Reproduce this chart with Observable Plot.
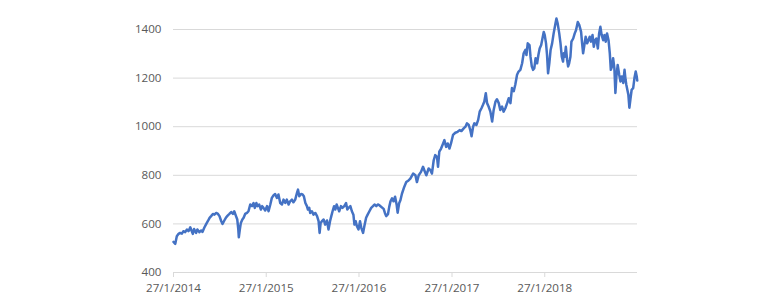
<!DOCTYPE html>
<html><head><meta charset="utf-8">
<script src="https://cdn.jsdelivr.net/npm/d3@7"></script>
<script src="https://cdn.jsdelivr.net/npm/@observablehq/plot@0.6"></script>
<style>
html,body{margin:0;padding:0;background:#fff;}
#chart svg{display:block;}
</style></head><body><div id="chart"></div>
<script>
const dates = [
"2014-01-27","2014-02-03","2014-02-09","2014-02-16","2014-02-22","2014-03-01","2014-03-07","2014-03-14","2014-03-21","2014-03-27",
"2014-04-03","2014-04-09","2014-04-13","2014-04-18","2014-04-26","2014-05-01","2014-05-09","2014-05-16","2014-05-21","2014-05-28",
"2014-06-05","2014-06-11","2014-06-18","2014-06-24","2014-07-01","2014-07-07","2014-07-14","2014-07-21","2014-07-27","2014-08-03",
"2014-08-08","2014-08-15","2014-08-21","2014-08-28","2014-09-04","2014-09-11","2014-09-18","2014-09-23","2014-09-30","2014-10-05",
"2014-10-09","2014-10-11","2014-10-15","2014-10-19","2014-10-25","2014-10-30","2014-11-05","2014-11-12","2014-11-18","2014-11-25",
"2014-12-02","2014-12-08","2014-12-13","2014-12-19","2014-12-24","2014-12-30","2015-01-06","2015-01-11","2015-01-16","2015-01-23",
"2015-01-30","2015-02-05","2015-02-12","2015-02-18","2015-02-25","2015-03-03","2015-03-10","2015-03-16","2015-03-23","2015-03-30",
"2015-04-05","2015-04-12","2015-04-18","2015-04-25","2015-05-01","2015-05-08","2015-05-14","2015-05-21",
"2015-05-28","2015-06-01","2015-06-06","2015-06-13","2015-06-19","2015-06-24","2015-06-30","2015-07-06","2015-07-10","2015-07-15",
"2015-07-19","2015-07-26","2015-08-01","2015-08-08","2015-08-15","2015-08-21","2015-08-25","2015-08-29","2015-09-03","2015-09-10",
"2015-09-16","2015-09-23","2015-09-29","2015-10-05","2015-10-10","2015-10-15","2015-10-21","2015-10-26","2015-10-31","2015-11-05",
"2015-11-10","2015-11-17","2015-11-23","2015-11-30","2015-12-07","2015-12-12","2015-12-17","2015-12-24","2015-12-30","2016-01-05",
"2016-01-09","2016-01-14","2016-01-19","2016-01-25","2016-01-31","2016-02-05","2016-02-12","2016-02-17","2016-02-24","2016-03-01",
"2016-03-08","2016-03-15","2016-03-22","2016-03-28","2016-04-04","2016-04-10","2016-04-17",
"2016-05-03","2016-05-08","2016-05-13","2016-05-20","2016-05-25","2016-05-30","2016-06-05","2016-06-11","2016-06-17","2016-06-23",
"2016-06-27","2016-07-03",
"2016-07-08","2016-07-14","2016-07-23","2016-07-31","2016-08-09","2016-08-16","2016-08-27","2016-09-05","2016-09-11","2016-09-18",
"2016-09-27","2016-10-05","2016-10-10","2016-10-18","2016-10-27","2016-11-03","2016-11-09","2016-11-16","2016-11-22","2016-11-29",
"2016-12-03","2016-12-08","2016-12-15","2016-12-23","2016-12-28","2017-01-04","2017-01-10","2017-01-17","2017-01-23","2017-01-31",
"2017-02-09","2017-02-18","2017-02-26","2017-03-05","2017-03-14","2017-03-21","2017-03-27","2017-04-03","2017-04-09","2017-04-14",
"2017-04-20","2017-04-25","2017-05-03","2017-05-10","2017-05-16","2017-05-23","2017-05-29","2017-06-03","2017-06-09","2017-06-14",
"2017-06-20","2017-06-27","2017-07-04","2017-07-10","2017-07-17","2017-07-23","2017-07-30","2017-08-05","2017-08-12","2017-08-18",
"2017-08-25","2017-09-01","2017-09-07","2017-09-14",
"2017-09-20","2017-09-27","2017-10-03","2017-10-10","2017-10-16","2017-10-23","2017-10-30","2017-11-05","2017-11-12","2017-11-16",
"2017-11-21","2017-11-28","2017-12-02","2017-12-07","2017-12-12","2017-12-17","2017-12-22","2017-12-28","2018-01-02","2018-01-07",
"2018-01-13","2018-01-18","2018-01-23","2018-01-27","2018-02-01","2018-02-05","2018-02-09","2018-02-14","2018-02-19","2018-02-25",
"2018-03-03","2018-03-10","2018-03-14","2018-03-19","2018-03-25","2018-03-30","2018-04-04","2018-04-09","2018-04-12","2018-04-16",
"2018-04-20","2018-04-25","2018-04-29","2018-05-03","2018-05-08","2018-05-12","2018-05-19","2018-05-25","2018-05-30","2018-06-06",
"2018-06-12","2018-06-19","2018-06-23","2018-06-27","2018-07-02","2018-07-07","2018-07-13","2018-07-18","2018-07-23","2018-07-28",
"2018-08-03","2018-08-08","2018-08-13","2018-08-18","2018-08-24","2018-08-29","2018-09-03","2018-09-08","2018-09-14","2018-09-19",
"2018-09-24","2018-09-29","2018-10-05","2018-10-10","2018-10-14","2018-10-19","2018-10-23","2018-10-28","2018-11-01","2018-11-05",
"2018-11-10","2018-11-16","2018-11-21","2018-11-26","2018-12-02","2018-12-07","2018-12-11","2018-12-14","2018-12-18","2018-12-22",
"2018-12-26","2018-12-30","2019-01-04","2019-01-10","2019-01-15","2019-01-20","2019-01-24","2019-01-26"
];
const values = [
526,518,549,559,563,560,570,566,577,570,
586,570,559,579,563,577,566,573,567,584,
600,611,625,632,641,638,645,641,632,611,
600,614,625,634,641,649,641,652,632,618,
577,545,577,604,618,625,641,645,652,680,
673,686,666,686,673,680,659,673,666,655,
673,652,680,707,718,723,707,721,686,680,
700,686,700,680,693,700,689,700,
728,741,714,723,721,714,686,673,659,666,
645,652,638,645,632,611,563,604,611,618,
597,614,577,611,632,652,673,659,680,666,
652,673,666,673,686,659,666,673,652,638,
597,611,590,577,611,584,563,590,625,638,
652,666,673,680,673,680,676,
662,645,632,640,670,693,705,693,712,680,
646,685,
697,724,752,772,779,786,807,800,772,800,
814,835,821,800,828,821,807,862,883,876,
835,897,910,931,945,917,931,910,931,966,
975,979,986,982,993,1000,1014,1007,986,961,
1000,1014,1007,1028,1062,1076,1090,1103,1138,1097,
1083,1062,1021,1069,1103,1113,1097,1069,1083,1062,
1076,1097,1117,1097,
1159,1146,1173,1214,1227,1234,1261,1302,1316,1295,
1343,1336,1288,1248,1234,1241,1282,1261,1295,1322,
1336,1363,1390,1377,1343,1295,1220,1261,1316,1343,
1384,1424,1445,1424,1384,1343,1288,1268,1302,1288,
1329,1275,1248,1261,1288,1350,1363,1384,1397,1431,
1418,1390,1343,1302,1336,1370,1343,1356,1370,1350,
1377,1329,1356,1363,1322,1384,1411,1377,1356,1377,
1350,1384,1356,1302,1234,1248,1282,1241,1139,1207,
1254,1214,1186,1207,1180,1234,1193,1173,1152,1132,
1078,1112,1152,1159,1200,1227,1207,1190
];
const xTickDates = ["2014-01-27","2015-01-27","2016-01-27","2017-01-27","2018-01-27"];
const xTickLabels = ["27/1/2014","27/1/2015","27/1/2016","27/1/2017","27/1/2018"];
const yTicks = [400,600,800,1000,1200,1400];
const xStart = "2014-01-27";
const xEnd = "2019-01-27";

const parse = d3.utcParse("%Y-%m-%d");
const data = dates.map((d, i) => ({date: parse(d), value: values[i]}));
const tickDates = xTickDates.map(parse);
const labelOf = new Map(tickDates.map((d, i) => [+d, xTickLabels[i]]));

const chart = Plot.plot({
  width: 780, height: 302,
  marginLeft: 173, marginRight: 143, marginTop: 29, marginBottom: 30,
  style: {fontFamily: "'Open Sans', sans-serif", fontSize: "11.6px", color: "#595959", background: "#fff"},
  x: {type: "utc", domain: [parse(xStart), parse(xEnd)]},
  y: {domain: [400, 1400]},
  marks: [
    Plot.gridY(yTicks, {stroke: "#d9d9d9", strokeOpacity: 1}),
    Plot.ruleY([400], {stroke: "#d9d9d9", strokeOpacity: 1}),
    Plot.axisY(yTicks, {tickSize: 0, tickPadding: 12, label: null, fill: "#595959", tickFormat: d3.format("d")}),
    Plot.axisX(tickDates, {tickSize: 5, tickPadding: 6, stroke: "#d9d9d9", strokeOpacity: 1, fill: "#595959", tickFormat: d => labelOf.get(+d), label: null}),
    Plot.lineY(data, {x: "date", y: "value", stroke: "#4472C4", strokeWidth: 2.5, strokeLinejoin: "round"})
  ]
});
document.getElementById("chart").append(chart);
</script>
</body></html>
